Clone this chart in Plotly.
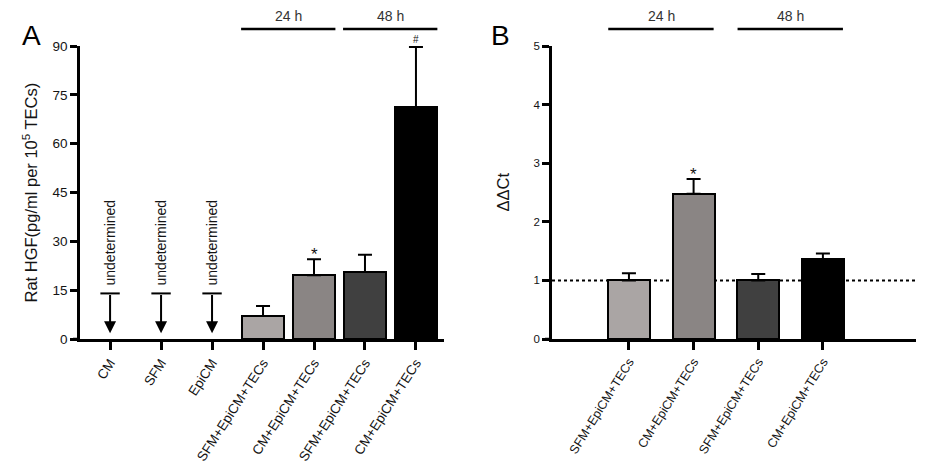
import plotly.graph_objects as go

# ---------------- data ----------------
# Panel A
a_labels = ["CM", "SFM", "EpiCM", "SFM+EpiCM+TECs", "CM+EpiCM+TECs",
            "SFM+EpiCM+TECs", "CM+EpiCM+TECs"]
a_values = [None, None, None, 7.1, 19.6, 20.6, 71.3]
a_err = [None, None, None, 3.0, 4.9, 5.3, 18.4]
a_colors = ["#aaa5a4", "#8a8584", "#404040", "#000000"]
a_undetermined = ["undetermined", "undetermined", "undetermined"]
a_undet_level = [14, 14, 14]
a_undet_tip = [1.8, 1.8, 1.8]
a_marks = {4: "*", 6: "#"}
a_groups = [("24 h", [3, 4]), ("48 h", [5, 6])]
a_yticks = [0, 15, 30, 45, 60, 75, 90]

# Panel B
b_labels = ["SFM+EpiCM+TECs", "CM+EpiCM+TECs", "SFM+EpiCM+TECs", "CM+EpiCM+TECs"]
b_values = [1.0, 2.48, 1.0, 1.36]
b_err = [0.12, 0.25, 0.11, 0.10]
b_colors = ["#aaa5a4", "#8a8584", "#404040", "#000000"]
b_marks = {1: "*"}
b_groups = [("24 h", [0, 1]), ("48 h", [2, 3])]
b_yticks = [0, 1, 2, 3, 4, 5]
b_reference = 1

FONT = "Liberation Sans, Arial, sans-serif"
INK = "#141414"
W, H = 945, 472
OFF = 8  # page body margin


def px_x(p):
    return (p - OFF) / W


def px_y(p):
    return (H - (p - OFF)) / H


fig = go.Figure()

# ---------- Panel A bars ----------
a_idx = [i for i, v in enumerate(a_values) if v is not None]
fig.add_trace(go.Bar(
    x=a_idx, y=[a_values[i] for i in a_idx], width=0.82,
    marker=dict(color=a_colors, line=dict(color="black", width=2)),
    error_y=dict(type="data", symmetric=False,
                 array=[a_err[i] for i in a_idx],
                 arrayminus=[0] * len(a_idx),
                 color="black", thickness=2, width=7),
    xaxis="x", yaxis="y", showlegend=False, hoverinfo="skip"))

# ---------- Panel B bars ----------
b_idx = list(range(len(b_values)))
fig.add_trace(go.Bar(
    x=b_idx, y=b_values, width=0.65,
    marker=dict(color=b_colors, line=dict(color="black", width=2)),
    error_y=dict(type="data", symmetric=False, array=b_err,
                 arrayminus=[0] * len(b_idx),
                 color="black", thickness=2, width=7),
    xaxis="x2", yaxis="y2", showlegend=False, hoverinfo="skip"))

ydom = [px_y(339), px_y(46)]
axis_common = dict(showline=True, linecolor="black", linewidth=2.5,
                   ticks="outside", tickcolor="black", tickwidth=2.5,
                   showgrid=False, zeroline=False, fixedrange=True)

fig.update_layout(
    width=W, height=H, autosize=False,
    margin=dict(l=0, r=0, t=0, b=0),
    paper_bgcolor="white", plot_bgcolor="white",
    font=dict(family=FONT, color=INK),
    bargap=0,
    xaxis=dict(domain=[px_x(80), px_x(444)], range=[-0.59, 6.55],
               tickvals=list(range(len(a_labels))), ticktext=a_labels,
               tickangle=-57, ticklen=8, tickfont=dict(size=13.5, color=INK),
               anchor="y", automargin=False, **axis_common),
    yaxis=dict(domain=ydom, range=[0, 90], tickvals=a_yticks,
               ticklen=7, tickfont=dict(size=13.5, color=INK),
               anchor="x", automargin=False, **axis_common),
    xaxis2=dict(domain=[px_x(552), px_x(916)], range=[-1.19, 4.44],
                tickvals=b_idx, ticktext=b_labels,
                tickangle=-58, ticklen=8, tickfont=dict(size=12.5, color=INK),
                anchor="y2", automargin=False, **axis_common),
    yaxis2=dict(domain=ydom, range=[0, 5], tickvals=b_yticks,
                ticklen=7, tickfont=dict(size=11.5, color=INK),
                anchor="x2", automargin=False, **axis_common),
)

shapes = []
annotations = []

# x-axis extensions left of y axes (GraphPad style)
shapes.append(dict(type="line", xref="paper", yref="y", x0=px_x(73), x1=px_x(80),
                   y0=0, y1=0, line=dict(color="black", width=2.5)))
shapes.append(dict(type="line", xref="paper", yref="y2", x0=px_x(545), x1=px_x(552),
                   y0=0, y1=0, line=dict(color="black", width=2.5)))

# "undetermined" arrows and labels
for i, (txt, lvl, tip) in enumerate(zip(a_undetermined, a_undet_level, a_undet_tip)):
    annotations.append(dict(x=i, y=tip, ax=i, ay=lvl, xref="x", yref="y",
                            axref="x", ayref="y", text="", showarrow=True,
                            arrowhead=2, arrowsize=1.2, arrowwidth=2,
                            arrowcolor="black", standoff=0))
    shapes.append(dict(type="line", xref="x", yref="y", x0=i - 0.19, x1=i + 0.19,
                       y0=lvl, y1=lvl, line=dict(color="black", width=2)))
    annotations.append(dict(x=i, y=lvl, xref="x", yref="y", text=txt,
                            textangle=-90, showarrow=False, xanchor="center",
                            yanchor="bottom", yshift=6, font=dict(size=14, color=INK)))

# significance marks
for i, m in a_marks.items():
    annotations.append(dict(x=i, y=a_values[i] + a_err[i], xref="x", yref="y",
                            text=m, showarrow=False, xanchor="center", yanchor="bottom",
                            yshift=-7 if m == "*" else 0,
                            font=dict(size=17 if m == "*" else 10, color=INK)))
for i, m in b_marks.items():
    annotations.append(dict(x=i, y=b_values[i] + b_err[i], xref="x2", yref="y2",
                            text=m, showarrow=False, xanchor="center", yanchor="bottom",
                            yshift=-7, font=dict(size=17, color=INK)))

# time group brackets
bracket_y = px_y(29)
for label, cats in a_groups:
    shapes.append(dict(type="line", xref="x", yref="paper",
                       x0=cats[0] - 0.43, x1=cats[-1] + 0.42,
                       y0=bracket_y, y1=bracket_y, line=dict(color="black", width=2.5)))
    annotations.append(dict(x=(cats[0] + cats[-1]) / 2, y=bracket_y, xref="x",
                            yref="paper", text=label, showarrow=False,
                            xanchor="center", yanchor="bottom", yshift=3,
                            font=dict(size=14, color="#333")))
for label, cats in b_groups:
    shapes.append(dict(type="line", xref="x2", yref="paper",
                       x0=cats[0] - 0.32, x1=cats[-1] + 0.31,
                       y0=bracket_y, y1=bracket_y, line=dict(color="black", width=2.5)))
    annotations.append(dict(x=(cats[0] + cats[-1]) / 2, y=bracket_y, xref="x2",
                            yref="paper", text=label, showarrow=False,
                            xanchor="center", yanchor="bottom", yshift=3,
                            font=dict(size=14, color="#333")))

# reference dotted line in B (behind bars)
shapes.append(dict(type="line", xref="x2", yref="y2", x0=-1.19, x1=4.44,
                   y0=b_reference, y1=b_reference, layer="below",
                   line=dict(color="black", width=2, dash="dot")))

# axis titles
ymid = (ydom[0] + ydom[1]) / 2
annotations.append(dict(x=px_x(30), y=ymid, xref="paper", yref="paper",
                        text="Rat HGF(pg/ml per 10<sup>5</sup> TECs)",
                        textangle=-90, showarrow=False, xanchor="center",
                        yanchor="middle", font=dict(size=16.5, color=INK)))
annotations.append(dict(x=px_x(502), y=ymid, xref="paper", yref="paper",
                        text="ΔΔCt", textangle=-90, showarrow=False,
                        xanchor="center", yanchor="middle",
                        font=dict(size=16.5, color=INK)))

# panel letters
annotations.append(dict(x=px_x(31), y=px_y(36), xref="paper", yref="paper",
                        text="A", showarrow=False, xanchor="center", yanchor="middle",
                        font=dict(size=28, color="black")))
annotations.append(dict(x=px_x(501), y=px_y(36), xref="paper", yref="paper",
                        text="B", showarrow=False, xanchor="center", yanchor="middle",
                        font=dict(size=28, color="black")))

fig.update_layout(shapes=shapes, annotations=annotations)
fig.write_html("out.html")
